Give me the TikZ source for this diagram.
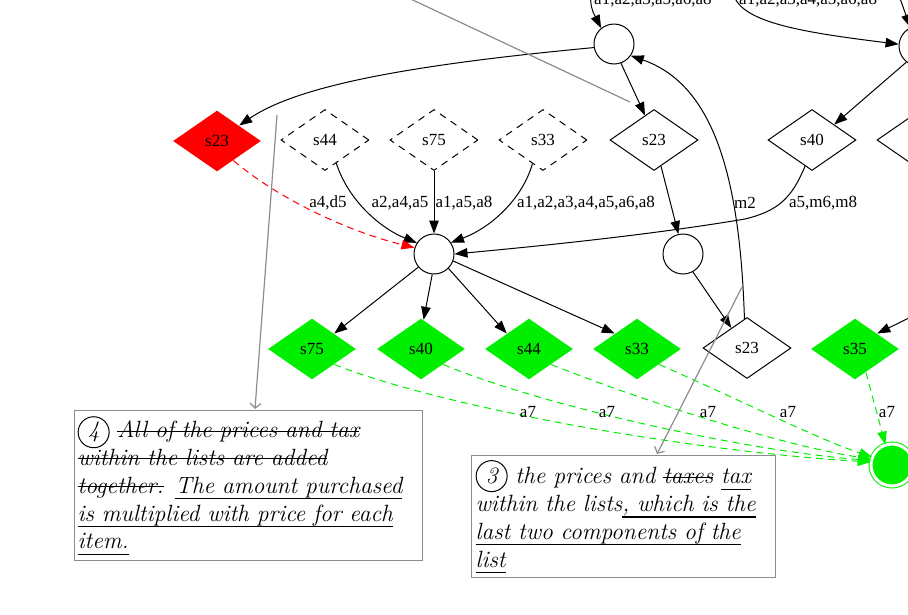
\documentclass[tikz,border=0pt]{standalone}
\usepackage{fontspec}
\usetikzlibrary{shapes.geometric, arrows.meta}
\newfontfamily\gvfont{Liberation Serif}
\definecolor{gvgreen}{HTML}{00EE00}
\definecolor{gvgray}{HTML}{8C8C8C}
\newlength\markwd
\newcommand{\strk}[1]{\leavevmode\settowidth{\markwd}{#1}\rlap{\rule[0.26em]{\markwd}{1pt}}#1}
\newcommand{\uln}[1]{\leavevmode\settowidth{\markwd}{#1}\rlap{\rule[-0.26em]{\markwd}{1.2pt}}#1}
\newcommand{\notenum}[1]{\leavevmode\tikz[baseline=(num.base)]\node[circle, draw, line width=1pt, minimum size=31pt, inner sep=0pt] (num) {#1};}

\begin{document}
\begin{tikzpicture}[x=1pt, y=-1pt,
  state/.style={circle, draw, line width=1pt, minimum size=40pt, inner sep=0pt},
  choice/.style={diamond, draw, line width=1pt, minimum width=88pt, minimum height=61pt,
    inner sep=0pt, font=\gvfont\fontsize{17}{20}\selectfont},
  ghost/.style={choice, dash pattern=on 7pt off 6pt},
  hit/.style={choice, draw=none, fill=gvgreen},
  miss/.style={choice, draw=none, fill=red},
  elabel/.style={font=\gvfont\fontsize{17}{20}\selectfont, inner sep=1pt},
  flow/.style={-{Triangle[length=13pt, width=9.5pt]}, line width=1pt},
  gflow/.style={flow, gvgreen, dash pattern=on 7pt off 5pt},
  rflow/.style={flow, red, dash pattern=on 7pt off 5pt},
  note/.style={draw=gvgray, line width=1.3pt, rectangle, anchor=north west, align=left,
    font=\itshape\fontsize{23.5}{27.8}\selectfont},
  pointer/.style={gvgray, line width=1.2pt, -{Straight Barb[length=5pt, width=11pt]}}]
  \useasboundingbox (0,0) rectangle (908,614);
  \clip (0,0) rectangle (908,614);

  % upper states
  \node[state] (c1) at (614,44) {};
  \node[state] (c2) at (919,46) {};
  \node[choice] (s23a) at (654,140) {s23};
  \node[choice] (s40) at (812,140) {s40};
  \node[choice] (sR) at (921,140) {};
  \node[state] (c3) at (683,254) {};
  \node[choice] (s23b) at (747,348) {s23};

  % incoming edges from above
  \coordinate (t1) at (590,-12);
  \coordinate (t2) at (733,-8);
  \coordinate (t3) at (897,-10);
  \coordinate (t4) at (915,315);
  \draw[flow] (t1) .. controls (591,8) .. (c1.129);
  \draw[flow] (t2) .. controls (738,22) and (800,32) .. (c2.175);
  \draw[flow] (t3) -- (c2.115);
  \node[elabel, anchor=base west] at (593,4) {a1,a2,a3,a5,a6,a8};
  \node[elabel, anchor=base west] at (738,4) {a1,a2,a3,a4,a5,a6,a8};

  % middle row
  \node[miss] (r23) at (217,141) {s23};
  \node[ghost] (d44) at (325,140) {s44};
  \node[ghost] (d75) at (434,140) {s75};
  \node[ghost] (d33) at (543,140) {s33};
  \node[state] (hub) at (434,254) {};

  % lower row
  \node[hit] (g75) at (312,349) {s75};
  \node[hit] (g40) at (421,349) {s40};
  \node[hit] (g44) at (529,349) {s44};
  \node[hit] (g33) at (637,349) {s33};
  \node[hit] (g35) at (855,349) {s35};
  \node[circle, draw=gvgreen, fill=gvgreen, line width=1pt, minimum size=42pt,
    double=white, double distance=3pt] (fin) at (892,465) {};

  % black edges
  \draw[flow] (c2.232) -- (s40.north east);
  \draw[flow] (c1.190) .. controls (420,64) and (300,84) .. (r23.north east);
  \draw[flow] (c1.-70) -- (s23a.110);
  \draw[flow] (s23a.-75) -- (c3.103);
  \draw[flow] (c3.-61) -- (s23b.128);
  \draw[flow] (s23b.95) .. controls (740,180) and (715,85) .. (c1.-35);
  \node[elabel] at (745,203) {m2};
  \draw[flow] (s40.-105) .. controls (792,198) and (778,211) .. (745,219)
    .. controls (650,235) and (540,246) .. (hub.east);
  \node[elabel] at (823,203) {a5,m6,m8};
  \draw[flow] (d44.-64) .. controls (348,200) and (380,228) .. (hub.147);
  \node[elabel] at (400,203) {a2,a4,a5};
  \draw[flow] (d75.south) -- (hub.north);
  \node[elabel] at (464,203) {a1,a5,a8};
  \draw[flow] (d33.-114) .. controls (522,200) and (490,228) .. (hub.34);
  \node[elabel] at (586,203) {a1,a2,a3,a4,a5,a6,a8};
  \draw[rflow] (r23.-50) .. controls (280,200) and (350,232) .. (hub.162);
  \node[elabel] at (328,203) {a4,d5};
  \draw[flow] (hub.-140) -- (g75.north east);
  \draw[flow] (hub.-95) -- (g40.85);
  \draw[flow] (hub.-45) -- (g44.north west);
  \draw[flow] (hub.-20) -- (g33.north west);
  \draw[flow] (t4) -- (g35.north east);

  % green edges to the final state
  \draw[gflow] (g75.south east) .. controls (450,410) and (700,452) .. (fin.172);
  \node[elabel] at (528,412) {a7};
  \draw[gflow] (g40.south east) .. controls (540,405) and (740,450) .. (fin.168);
  \node[elabel] at (607,412) {a7};
  \draw[gflow] (g44.south east) .. controls (640,400) and (780,445) .. (fin.164);
  \node[elabel] at (708,412) {a7};
  \draw[gflow] (g33.south east) .. controls (740,400) and (820,440) .. (fin.158);
  \node[elabel] at (788,412) {a7};
  \draw[gflow] (g35.-65) -- (fin.108);
  \node[elabel] at (887,412) {a7};

  % notes
  \node[note, text width=342pt, minimum height=150pt, inner xsep=3pt] (box4) at (74,410) {%
    \notenum{4} \strk{All of the prices and tax}\\
    \strk{within the lists are added}\\
    \strk{together.} \uln{The amount purchased}\\
    \uln{is multiplied with price for each}\\
    \uln{item.}};
  \node[note, text width=296pt, minimum height=122pt, inner xsep=4pt] (box3) at (471,455) {%
    \notenum{3} the prices and \strk{taxes} \uln{tax}\\
    within the lists\uln{, which is the}\\
    \uln{last two components of the}\\
    \uln{list}};

  % pointers to the notes
  \coordinate (p0) at (400,-6);
  \coordinate (p1) at (630,102);
  \coordinate (p4) at (277,115);
  \coordinate (q4) at (255,409);
  \coordinate (p3) at (742,287);
  \coordinate (q3) at (657,454);
  \draw[gvgray, line width=1.2pt] (p0) -- (p1);
  \draw[pointer] (p4) -- (q4);
  \draw[pointer] (p3) -- (q3);
\end{tikzpicture}
\end{document}
